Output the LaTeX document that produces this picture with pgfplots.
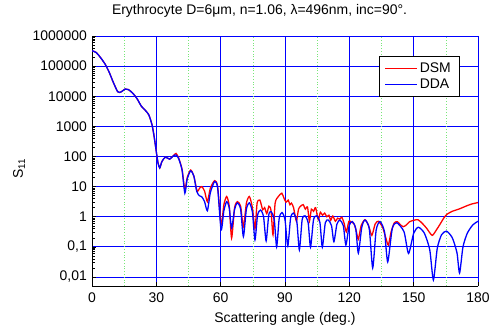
\documentclass[border=0pt]{standalone}
\usepackage{fontspec}
\setmainfont{Liberation Sans}
\usepackage{pgfplots}
\pgfplotsset{compat=1.18}
\usepackage{pgfplotstable}
\newcommand\fs{\fontsize{14}{16.8}\selectfont}
\definecolor{lgreen}{RGB}{120,230,120}

\pgfplotstableread{
t v
0 324000
2 282000
4 191000
6 120000
8 63100
10 28200
12 14100
13.5 13800
15.5 17400
17 16600
19 12600
21 8320
23 4680
25 3310
26.5 2400
28 1120
29 447
30 141
30.8 60.3
31.6 41.7
32.6 67.6
34.2 95.5
36.2 81.3
38 105
39.2 112
40.4 85.1
42 35.5
43.3 6.03
44.4 17.8
46 33.1
47.5 22.4
48.8 7.08
50 5.01
51.2 4.57
52.5 3.16
53.8 1.58
55.2 6.31
57.2 14.8
58.6 8.91
60.2 0.363
61.5 1.58
62.8 3.16
64 2.00
65.1 0.417
66.5 1.78
67.8 2.88
69.3 1.78
70.6 0.219
72 1.78
73.4 2.88
74.8 1.41
76.0 0.170
77.2 1.12
78.6 1.66
80 1.00
81.2 0.158
82.4 1.12
83.5 1.48
85 0.794
86.1 0.100
87.3 0.891
88.6 1.38
90 0.794
91.3 0.107
92.6 0.891
93.9 1.32
95.5 0.708
96.7 0.0794
98 0.794
99.3 1.07
100.8 0.631
101.9 0.0977
103.3 0.794
104.8 1.07
106.3 0.631
107.4 0.0977
108.8 0.631
110.2 0.776
111.7 0.501
112.8 0.148
114.2 0.562
115.6 0.776
117.2 0.501
118.4 0.115
119.9 0.501
121.4 0.692
123 0.398
124.2 0.0617
125.8 0.447
127.3 0.776
129.3 0.398
130.9 0.0200
132.5 0.355
134.3 0.692
136.4 0.316
137.9 0.0316
140 0.398
142.1 0.631
145.5 0.316
147.6 0.0603
150 0.282
152.2 0.447
155 0.282
157.5 0.0794
159.2 0.00794
161 0.0891
163 0.251
165.3 0.331
168 0.200
170.2 0.0631
171.4 0.0135
173 0.100
175 0.282
177.5 0.525
180 0.708
}\dda

\pgfplotstableread{
t v
0 324000
2 282000
4 191000
6 120000
8 63100
10 28200
12 14100
13.5 13800
15.5 17400
17 16600
19 12600
21 8320
23 4680
25 3310
26.5 2400
28 1120
29 447
30 141
30.8 60.3
31.6 41.7
32.6 67.6
34.2 95.5
36.2 81.3
38 108
39.2 126
40.4 90
42 37
43.3 7.94
44.4 20.0
46 35.5
47.5 22.4
49 7.08
50.2 8.91
51.2 10.0
52.5 7.08
53.8 3.16
55.2 8.91
57.2 15.8
58.6 10.0
60.2 0.537
61.5 2.51
62.8 4.68
64 2.24
65.1 0.195
66.5 2.00
67.8 3.16
69.3 2.24
70.6 0.468
72 2.82
73.4 4.68
74.8 2.00
76.0 0.398
77 2.82
78.3 3.55
79.6 1.70
80.5 2.00
81.5 1.26
82.5 2.24
83.5 1.58
84.4 0.251
85.4 2.82
86.9 4.68
88.5 6.03
89.5 4.17
90.5 3.02
91.5 3.55
92.3 2.51
93 2.82
94 2.00
95.3 0.708
96.3 1.78
97.3 2.24
98.5 2.51
99.5 1.78
100.5 2.09
101.4 0.708
102.3 1.78
103.3 1.51
104.3 2.00
105.5 0.794
106.5 1.41
107.5 1.12
108.5 1.32
109.5 1.00
110.5 1.12
111.3 0.759
112.3 1.05
113.5 0.708
114.5 0.891
115.5 0.832
116.5 0.955
117.5 0.631
118.6 0.316
119.8 0.708
121 0.661
122.3 0.562
123.3 0.316
124.2 0.178
125.5 0.501
127.3 0.794
129 0.501
130.5 0.240
132 0.562
133.5 0.708
135.5 0.447
137 0.200
138.2 0.115
139.5 0.316
141 0.631
142.5 0.676
144 0.525
145.2 0.468
146.5 0.525
148 0.676
150 0.759
152 0.794
154 0.603
156 0.417
158.6 0.240
160.5 0.355
162.3 0.562
164 0.891
165.5 1.20
168 1.51
171 1.78
174.7 2.29
177 2.63
180 2.95
}\dsm

\begin{document}
\begin{tikzpicture}[font=\fs]
\path[use as bounding box] (0,0) rectangle (490bp,329bp);
\begin{axis}[
  at={(92bp,43bp)}, anchor=south west,
  scale only axis, width=386bp, height=250bp,
  ymode=log,
  xmin=0, xmax=180, ymin=0.005, ymax=1000000,
  axis lines*=left,
  axis line style={black, line width=0.6pt},
  tick align=inside,
  tick style={black, line width=0.5pt},
  xtick={0,30,60,90,120,150,180},
  extra x ticks={15,45,75,105,135,165},
  extra x tick labels={},
  extra x tick style={major tick length=0pt, grid=major, major grid style={color=lgreen, dotted, line width=0.5pt}},
  ytick={0.01,0.1,1,10,100,1000,10000,100000,1000000},
  yticklabels={{0,01},{0,1},1,10,100,1000,10000,100000,1000000},
  grid=major,
  major grid style={blue, line width=0.8pt},
  /pgf/number format/assume math mode=true,
  xticklabel style={font=\fs, anchor=base, yshift=-17pt},
  yticklabel style={font=\fs, anchor=east, inner sep=0pt, xshift=-5pt},
  xlabel={Scattering angle (deg.)},
  xlabel style={font=\fs, at={(axis description cs:0.5,0)}, anchor=base, yshift=-37pt},
  ylabel={S\textsubscript{11}},
  ylabel style={font=\fs, at={(axis description cs:-0.1788,0.468)}, anchor=base},
  title={Erythrocyte D=6μm, n=1.06, λ=496nm, inc=90°.},
  title style={font=\fs, at={(axis description cs:0.434,1)}, anchor=base, yshift=16pt},
  legend style={at={(axis description cs:0.9508,0.92)}, anchor=north east, draw=black, fill=white, font=\fs, inner xsep=6pt, inner ysep=4.5pt, row sep=1pt},
  legend cell align=left,
  legend image code/.code={\draw[#1] (0pt,0pt) -- (32pt,0pt);},
  every axis plot/.append style={line width=1.3pt, smooth, tension=0.4},
]
\addplot[red, draw=red, forget plot] table[x=t, y=v] {\dsm};
\addplot[blue, draw=blue, forget plot] table[x=t, y=v] {\dda};
\addlegendimage{draw=red, line width=1.1pt}
\addlegendentry{DSM\hspace{2pt}}
\addlegendimage{draw=blue, line width=1.1pt}
\addlegendentry{DDA\hspace{2pt}}
\end{axis}
\end{tikzpicture}
\end{document}
